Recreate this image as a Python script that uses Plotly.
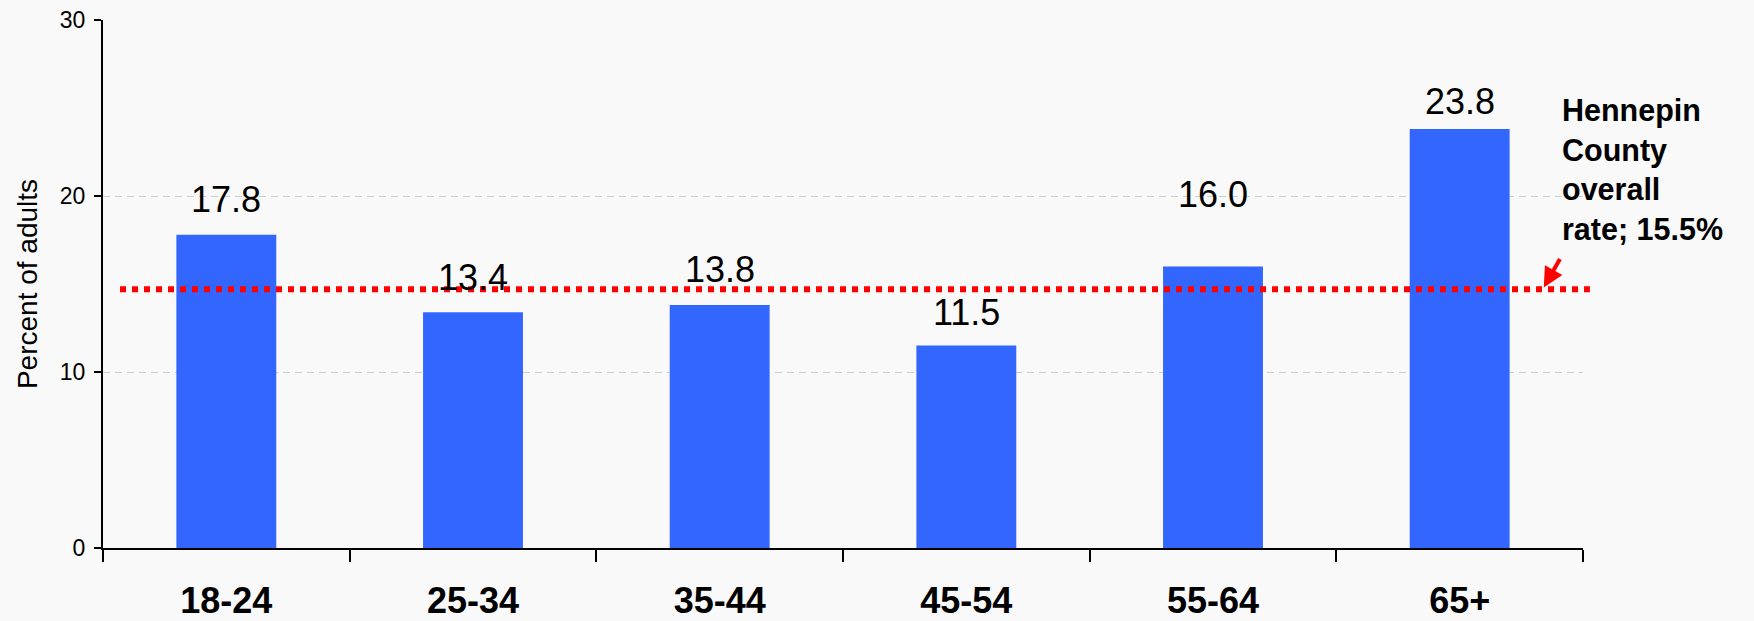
import plotly.graph_objects as go

categories = ["18-24", "25-34", "35-44", "45-54", "55-64", "65+"]
values = [17.8, 13.4, 13.8, 11.5, 16.0, 23.8]
value_labels = ["17.8", "13.4", "13.8", "11.5", "16.0", "23.8"]
label_gap = [13, 12, 13, 11, 49, 5]   # pixel offset of each value label above its bar
county_rate_line = 14.7
county_text = "Hennepin<br>County<br>overall<br>rate; 15.5%"

FONT = "Liberation Sans, Arial"

fig = go.Figure()
fig.add_trace(go.Bar(
    x=categories, y=values, width=0.405,
    marker=dict(color="#3366FF", line=dict(width=0)),
    hoverinfo="skip",
))

for c, v, t, g in zip(categories, values, value_labels, label_gap):
    fig.add_annotation(x=c, y=v, text=t, showarrow=False, yanchor="bottom",
                       yshift=g, font=dict(family=FONT, size=36, color="black"))

# county rate dotted line
fig.add_shape(type="line", xref="paper", yref="y", x0=0.0115, x1=1.0047,
              y0=county_rate_line, y1=county_rate_line,
              line=dict(color="#FF0000", width=6, dash="6px,6px"), layer="above")

# county text
fig.add_annotation(xref="paper", yref="y", x=0.9844, y=25.95, xanchor="left", yanchor="top",
                   text="<b>" + county_text + "</b>", align="left", showarrow=False,
                   font=dict(family=FONT, size=30.5, color="black"))
# arrow
fig.add_annotation(x=5.341, y=county_rate_line + 0.1, ax=17, ay=-30, text="",
                   showarrow=True, arrowhead=2, arrowsize=1, arrowwidth=4,
                   arrowcolor="#FF0000")

fig.update_layout(
    width=1754, height=621,
    margin=dict(l=103, r=171, t=20, b=73, autoexpand=False),
    paper_bgcolor="#F9F9F9", plot_bgcolor="#F9F9F9",
    showlegend=False, bargap=0.595,
    font=dict(family=FONT, color="black"),
)
fig.update_xaxes(
    type="category", range=[-0.5, 5.5], automargin=False,
    showline=True, linecolor="black", linewidth=2,
    ticks="outside", tickson="boundaries", ticklen=12, tickwidth=2, tickcolor="black",
    tickfont=dict(family=FONT, size=36, color="black", weight="bold"),
    ticklabelstandoff=20, showgrid=False,
)
fig.update_yaxes(
    range=[0, 30], tickvals=[0, 10, 20, 30], automargin=False,
    showline=True, linecolor="black", linewidth=2,
    ticks="outside", ticklen=7, tickwidth=2, tickcolor="black",
    tickfont=dict(family=FONT, size=23, color="black"),
    ticklabelstandoff=4,
    showgrid=True, gridcolor="#CCCCCC", gridwidth=1, griddash="7px,5px",
    zeroline=False,
    title=dict(text="Percent of adults", font=dict(family=FONT, size=28, color="black"), standoff=14),
)

fig.write_html(
    "out.html",
    config={"displayModeBar": False},
    post_script="document.body.style.margin='0';document.body.style.background='#F9F9F9';document.body.style.overflow='hidden';",
)
